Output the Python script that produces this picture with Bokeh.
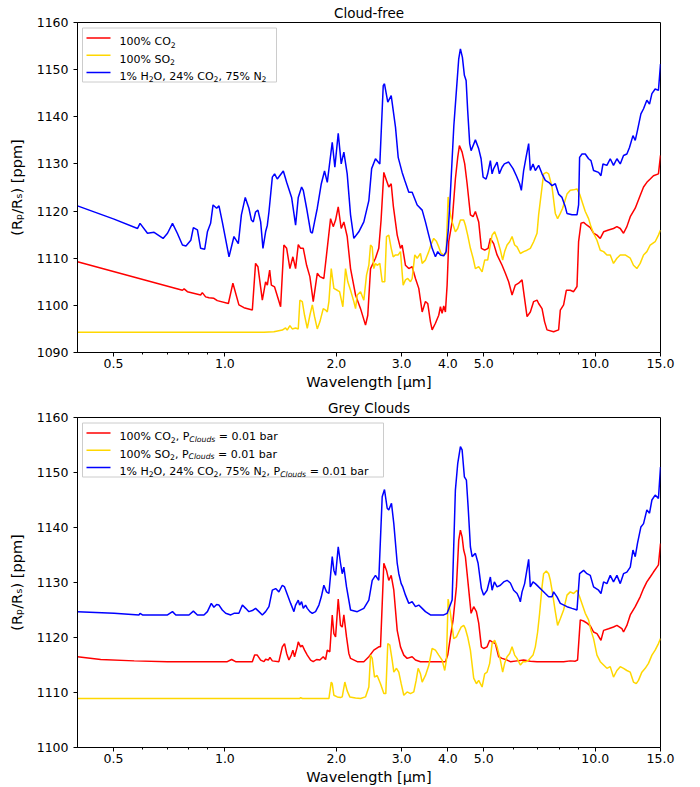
from bokeh.plotting import figure
from bokeh.models import Range1d, FixedTicker, CustomJSTickFormatter, Label, BoxAnnotation
from bokeh.layouts import column
from bokeh.embed import file_html
from bokeh.resources import INLINE

# ---------------- data (wavelength [um], (Rp/Rs)^2 [ppm]) ----------------
x_ticks = [0.5, 1.0, 2.0, 3.0, 4.0, 5.0, 10.0, 15.0]
x_minor = [0.6, 0.7, 0.8, 0.9, 6.0, 7.0, 8.0, 9.0]

cf_co2 = [(0.400,1109.25),(0.768,1103.2),(0.776,1103.5),(0.792,1102.9),(0.860,1102.2),(0.869,1102.7),(0.887,1101.8),(0.906,1101.6),(0.934,1101.5),(0.954,1101.0),(1.022,1100.4),(1.051,1104.7),(1.091,1100.1),(1.126,1099.5),(1.186,1099.0),(1.210,1108.9),(1.228,1108.2),(1.262,1101.1),(1.288,1105.0),(1.302,1104.3),(1.321,1107.5),(1.335,1104.3),(1.362,1103.9),(1.414,1099.7),(1.443,1112.8),(1.468,1112.1),(1.498,1107.8),(1.526,1110.3),(1.552,1107.8),(1.578,1112.9),(1.601,1112.1),(1.628,1112.1),(1.662,1108.5),(1.696,1106.1),(1.732,1100.8),(1.776,1106.8),(1.805,1106.1),(1.850,1105.7),(1.881,1110.7),(1.929,1118.4),(1.961,1116.7),(1.990,1118.1),(2.023,1120.9),(2.061,1116.3),(2.095,1117.7),(2.139,1114.6),(2.184,1107.8),(2.253,1102.2),(2.324,1099.3),(2.397,1095.8),(2.431,1097.9),(2.473,1107.8),(2.550,1110.0),(2.603,1112.1),(2.640,1118.0),(2.686,1128.2),(2.731,1126.5),(2.770,1125.1),(2.812,1125.8),(2.850,1121.0),(2.919,1114.9),(2.979,1112.1),(3.010,1112.8),(3.073,1108.5),(3.137,1107.8),(3.203,1108.2),(3.270,1105.7),(3.338,1103.6),(3.409,1098.6),(3.479,1100.8),(3.529,1100.4),(3.589,1096.5),(3.627,1094.8),(3.702,1096.2),(3.779,1097.9),(3.819,1099.7),(3.859,1098.3),(3.898,1099.9),(3.939,1098.6),(3.981,1104.3),(4.021,1113.5),(4.107,1117.7),(4.191,1126.8),(4.252,1131.4),(4.297,1133.9),(4.370,1132.5),(4.441,1130.0),(4.508,1125.8),(4.601,1119.2),(4.679,1118.8),(4.746,1119.9),(4.845,1117.7),(4.926,1112.1),(5.028,1111.7),(5.136,1112.1),(5.209,1114.2),(5.317,1113.1),(5.431,1110.7),(5.602,1108.5),(5.718,1106.8),(5.836,1105.0),(5.961,1102.2),(6.084,1104.3),(6.210,1104.7),(6.343,1105.4),(6.434,1101.8),(6.543,1097.6),(6.678,1098.6),(6.817,1100.8),(6.962,1101.1),(7.032,1100.4),(7.182,1099.3),(7.298,1096.5),(7.408,1094.8),(7.718,1094.4),(7.962,1094.8),(8.046,1099.0),(8.213,1100.1),(8.352,1103.2),(8.561,1103.2),(8.739,1102.9),(8.925,1104.0),(9.015,1113.5),(9.150,1117.4),(9.299,1117.6),(9.497,1117.0),(9.694,1116.5),(9.894,1115.3),(10.105,1114.9),(10.315,1114.2),(10.53,1115.6),(10.86,1116.0),(11.20,1116.3),(11.44,1116.7),(11.68,1116.3),(11.92,1115.3),(12.17,1116.7),(12.43,1118.8),(12.82,1120.6),(13.22,1123.3),(13.50,1125.1),(13.78,1126.1),(14.07,1126.8),(14.36,1127.5),(14.81,1127.9),(15.0,1131.8)]

cf_so2 = [(0.400,1094.3),(1.275,1094.3),(1.356,1094.4),(1.429,1094.75),(1.458,1095.2),(1.473,1094.75),(1.498,1095.7),(1.520,1095.0),(1.552,1095.2),(1.578,1095.0),(1.594,1101.1),(1.618,1100.8),(1.641,1097.9),(1.669,1095.1),(1.696,1097.9),(1.722,1100.1),(1.746,1097.6),(1.776,1095.0),(1.805,1096.5),(1.843,1099.3),(1.870,1099.0),(1.890,1098.6),(1.909,1100.8),(1.937,1107.8),(1.969,1103.6),(2.011,1103.2),(2.040,1102.9),(2.082,1099.7),(2.117,1107.8),(2.147,1105.0),(2.184,1103.2),(2.229,1100.8),(2.253,1099.3),(2.277,1102.2),(2.324,1102.9),(2.372,1101.1),(2.412,1106.4),(2.447,1108.5),(2.473,1112.8),(2.499,1112.4),(2.524,1107.8),(2.550,1108.9),(2.577,1108.5),(2.620,1108.9),(2.659,1105.0),(2.702,1105.0),(2.731,1114.6),(2.770,1114.9),(2.812,1112.1),(2.847,1110.3),(2.888,1110.7),(2.937,1110.7),(2.979,1111.4),(3.029,1104.3),(3.073,1105.4),(3.117,1105.7),(3.170,1105.0),(3.203,1105.7),(3.256,1110.7),(3.305,1110.0),(3.373,1111.0),(3.409,1108.9),(3.479,1109.6),(3.551,1111.4),(3.611,1113.1),(3.663,1114.2),(3.725,1113.6),(3.779,1112.4),(3.836,1111.0),(3.898,1110.7),(3.956,1111.0),(4.006,1123.0),(4.064,1119.2),(4.107,1117.7),(4.191,1115.6),(4.252,1116.3),(4.324,1118.1),(4.413,1118.1),(4.460,1117.0),(4.524,1114.9),(4.601,1112.1),(4.679,1110.0),(4.746,1107.8),(4.845,1108.2),(4.948,1107.1),(5.028,1109.6),(5.123,1109.6),(5.187,1112.1),(5.265,1114.9),(5.350,1115.6),(5.431,1114.2),(5.543,1111.7),(5.623,1109.6),(5.693,1111.4),(5.779,1112.8),(5.873,1113.5),(5.961,1114.6),(6.058,1112.8),(6.149,1112.4),(6.276,1111.0),(6.406,1111.4),(6.543,1111.7),(6.678,1112.1),(6.817,1113.5),(6.962,1115.3),(7.032,1119.2),(7.182,1125.1),(7.253,1127.9),(7.376,1128.2),(7.483,1127.9),(7.562,1126.5),(7.642,1125.1),(7.800,1119.5),(7.912,1118.4),(8.046,1119.5),(8.162,1120.6),(8.388,1123.6),(8.561,1124.4),(8.739,1124.5),(8.925,1124.7),(9.071,1123.6),(9.397,1119.9),(9.592,1118.4),(9.736,1116.7),(9.894,1115.3),(10.105,1113.8),(10.315,1111.7),(10.53,1111.4),(10.75,1110.7),(10.975,1110.7),(11.20,1108.9),(11.44,1110.0),(11.68,1110.7),(12.04,1110.7),(12.43,1110.0),(12.68,1108.5),(12.95,1107.8),(13.22,1108.9),(13.50,1110.7),(13.78,1111.4),(14.07,1112.8),(14.51,1113.5),(14.81,1114.9),(15.0,1116.0)]

cf_mix = [(0.400,1121.1),(0.502,1118.3),(0.581,1116.3),(0.590,1117.4),(0.618,1115.3),(0.644,1115.5),(0.681,1114.2),(0.700,1115.3),(0.722,1117.4),(0.744,1115.3),(0.768,1112.8),(0.785,1112.6),(0.809,1113.8),(0.822,1116.5),(0.843,1116.0),(0.860,1112.1),(0.882,1111.9),(0.897,1115.6),(0.915,1117.4),(0.929,1121.3),(0.950,1120.6),(0.964,1121.1),(0.984,1117.7),(1.026,1110.3),(1.058,1114.6),(1.087,1113.1),(1.108,1119.2),(1.135,1122.9),(1.161,1120.6),(1.179,1118.1),(1.193,1117.7),(1.210,1119.8),(1.228,1120.2),(1.249,1117.7),(1.267,1112.1),(1.288,1115.6),(1.302,1117.0),(1.315,1119.8),(1.343,1127.2),(1.362,1127.9),(1.385,1126.8),(1.438,1128.5),(1.468,1126.1),(1.514,1122.9),(1.552,1117.0),(1.578,1122.9),(1.611,1125.1),(1.628,1124.4),(1.662,1120.6),(1.704,1115.6),(1.722,1115.3),(1.746,1117.7),(1.776,1120.6),(1.821,1125.8),(1.858,1128.5),(1.890,1126.1),(1.949,1134.6),(1.981,1129.3),(2.023,1136.5),(2.061,1130.0),(2.095,1132.5),(2.139,1127.9),(2.184,1119.2),(2.229,1114.2),(2.299,1115.6),(2.372,1117.7),(2.447,1122.2),(2.490,1129.0),(2.550,1131.1),(2.620,1130.0),(2.676,1146.6),(2.697,1147.0),(2.753,1143.1),(2.812,1144.5),(2.888,1137.8),(2.937,1131.4),(3.010,1128.2),(3.060,1126.5),(3.137,1124.0),(3.203,1124.0),(3.305,1121.3),(3.409,1120.2),(3.479,1117.7),(3.551,1114.9),(3.627,1112.1),(3.702,1110.3),(3.755,1111.4),(3.819,1110.7),(3.898,1110.5),(3.956,1111.4),(4.010,1116.0),(4.064,1124.0),(4.150,1138.0),(4.218,1145.6),(4.279,1152.3),(4.324,1154.4),(4.378,1152.6),(4.432,1148.8),(4.480,1147.7),(4.524,1141.3),(4.581,1134.3),(4.621,1132.8),(4.746,1135.1),(4.845,1133.2),(4.917,1131.1),(4.979,1127.2),(5.072,1126.8),(5.123,1127.9),(5.209,1130.7),(5.265,1127.9),(5.317,1129.0),(5.431,1130.4),(5.509,1127.9),(5.602,1129.3),(5.682,1130.0),(5.836,1130.4),(5.998,1129.0),(6.122,1127.5),(6.249,1125.8),(6.315,1124.4),(6.406,1128.6),(6.502,1131.4),(6.609,1134.3),(6.678,1128.6),(6.791,1130.0),(6.889,1128.6),(7.032,1129.7),(7.182,1127.9),(7.330,1126.5),(7.483,1126.1),(7.642,1125.4),(7.800,1125.8),(7.962,1123.6),(8.131,1122.9),(8.299,1120.9),(8.388,1119.5),(8.652,1119.2),(8.925,1119.2),(9.015,1121.3),(9.071,1131.4),(9.207,1132.1),(9.397,1132.1),(9.592,1131.1),(9.736,1130.7),(9.894,1128.6),(10.207,1128.2),(10.36,1127.5),(10.49,1130.0),(10.75,1129.7),(10.975,1131.1),(11.20,1129.7),(11.44,1131.1),(11.68,1130.0),(11.92,1131.8),(12.17,1132.1),(12.37,1133.5),(12.64,1136.0),(12.82,1135.0),(13.00,1137.1),(13.28,1140.6),(13.50,1141.7),(13.78,1143.5),(14.01,1142.7),(14.22,1144.9),(14.51,1145.9),(14.81,1145.6),(15.0,1151.2)]

gc_co2 = [(0.400,1116.5),(0.462,1116.0),(0.569,1115.75),(0.700,1115.6),(1.015,1115.6),(1.043,1116.0),(1.069,1115.6),(1.186,1115.6),(1.203,1116.8),(1.223,1116.8),(1.249,1115.9),(1.275,1115.6),(1.288,1116.05),(1.310,1115.9),(1.323,1116.4),(1.343,1115.75),(1.399,1115.6),(1.429,1118.3),(1.449,1118.9),(1.468,1117.1),(1.489,1115.9),(1.511,1116.8),(1.526,1117.7),(1.542,1116.5),(1.568,1118.3),(1.578,1119.2),(1.601,1118.3),(1.618,1118.6),(1.641,1117.7),(1.669,1116.8),(1.704,1115.9),(1.732,1115.6),(1.768,1116.0),(1.805,1115.9),(1.843,1116.5),(1.870,1116.0),(1.890,1117.7),(1.920,1117.4),(1.949,1124.1),(1.969,1120.7),(1.990,1120.1),(2.023,1127.0),(2.052,1122.2),(2.074,1121.9),(2.095,1124.1),(2.130,1120.1),(2.161,1117.1),(2.184,1116.2),(2.277,1115.6),(2.372,1115.6),(2.447,1116.5),(2.524,1117.7),(2.603,1118.3),(2.631,1118.3),(2.686,1133.5),(2.731,1132.2),(2.770,1130.4),(2.812,1131.3),(2.858,1128.6),(2.919,1121.3),(2.979,1118.3),(3.041,1116.8),(3.105,1116.2),(3.203,1116.5),(3.270,1115.9),(3.373,1115.6),(3.939,1115.6),(3.996,1116.8),(4.064,1120.1),(4.132,1123.2),(4.218,1129.2),(4.279,1137.7),(4.324,1139.5),(4.370,1138.3),(4.413,1135.9),(4.460,1134.7),(4.508,1131.6),(4.621,1124.4),(4.696,1125.6),(4.776,1124.7),(4.845,1122.6),(4.926,1118.3),(4.997,1118.0),(5.104,1118.3),(5.187,1119.5),(5.265,1119.2),(5.373,1118.9),(5.485,1116.5),(5.602,1116.2),(5.779,1115.9),(5.898,1115.6),(6.149,1115.75),(6.406,1115.9),(6.678,1115.7),(6.962,1115.6),(7.562,1115.6),(8.213,1115.6),(8.561,1115.75),(8.831,1115.7),(8.958,1115.9),(9.110,1123.2),(9.299,1123.0),(9.497,1122.6),(9.694,1122.1),(9.894,1121.0),(10.105,1120.7),(10.36,1119.5),(10.53,1121.3),(10.86,1121.6),(11.20,1121.9),(11.44,1122.2),(11.80,1121.6),(11.92,1121.0),(12.17,1122.2),(12.43,1124.1),(12.82,1125.6),(13.22,1127.4),(13.50,1128.9),(13.78,1130.1),(14.07,1131.0),(14.36,1131.9),(14.67,1132.8),(14.81,1133.2),(15.0,1137.1)]

gc_so2 = [(0.400,1108.9),(1.590,1108.9),(1.601,1109.05),(1.620,1108.9),(1.909,1108.9),(1.937,1111.9),(1.949,1111.6),(1.969,1109.5),(2.011,1109.2),(2.052,1109.1),(2.074,1109.2),(2.108,1111.9),(2.139,1110.3),(2.174,1109.2),(2.253,1109.0),(2.324,1108.9),(2.397,1109.2),(2.447,1111.0),(2.473,1116.8),(2.499,1116.2),(2.535,1112.8),(2.577,1113.1),(2.631,1111.6),(2.686,1109.8),(2.719,1109.8),(2.753,1118.9),(2.788,1118.6),(2.829,1115.9),(2.858,1113.7),(2.906,1114.4),(2.948,1113.7),(2.992,1111.6),(3.041,1109.5),(3.105,1110.1),(3.170,1109.8),(3.236,1110.1),(3.284,1112.2),(3.325,1114.4),(3.373,1113.4),(3.409,1111.9),(3.479,1113.1),(3.551,1114.9),(3.627,1118.0),(3.702,1117.7),(3.779,1116.8),(3.859,1115.9),(3.922,1114.0),(3.964,1115.9),(4.006,1127.0),(4.064,1124.4),(4.148,1119.8),(4.218,1120.1),(4.279,1121.0),(4.343,1121.9),(4.413,1122.2),(4.460,1121.6),(4.524,1120.1),(4.601,1117.7),(4.696,1112.6),(4.776,1111.6),(4.845,1112.2),(4.948,1111.0),(5.028,1113.4),(5.104,1113.7),(5.187,1115.3),(5.265,1118.9),(5.350,1119.5),(5.431,1118.3),(5.543,1115.9),(5.623,1113.7),(5.693,1115.3),(5.779,1116.5),(5.873,1117.1),(5.961,1118.3),(6.058,1116.8),(6.149,1116.2),(6.276,1115.0),(6.382,1115.6),(6.502,1115.6),(6.609,1115.9),(6.791,1116.8),(6.889,1118.3),(6.988,1121.0),(7.075,1124.4),(7.182,1129.2),(7.253,1131.6),(7.376,1132.1),(7.483,1131.6),(7.562,1130.4),(7.642,1128.6),(7.800,1124.7),(7.912,1122.2),(8.046,1123.4),(8.213,1125.0),(8.388,1127.7),(8.561,1128.3),(8.739,1128.0),(8.925,1128.6),(9.071,1127.4),(9.397,1124.4),(9.592,1123.2),(9.736,1121.3),(9.894,1119.8),(10.105,1116.8),(10.315,1115.6),(10.53,1115.0),(10.75,1114.4),(10.975,1114.7),(11.20,1112.8),(11.44,1114.0),(11.68,1114.7),(11.92,1114.4),(12.17,1114.0),(12.43,1113.7),(12.68,1111.9),(12.90,1111.6),(13.08,1112.2),(13.36,1113.7),(13.64,1114.4),(13.92,1115.3),(14.22,1116.8),(14.51,1117.7),(14.81,1118.9),(15.0,1119.8)]

gc_mix = [(0.400,1124.7),(0.502,1124.4),(0.5865,1124.1),(0.590,1124.4),(0.599,1124.1),(0.700,1124.1),(0.722,1124.7),(0.737,1124.1),(0.800,1124.1),(0.822,1124.8),(0.843,1124.1),(0.878,1124.1),(0.897,1124.7),(0.919,1126.2),(0.934,1125.5),(0.950,1126.0),(0.964,1125.9),(0.984,1125.0),(1.005,1124.4),(1.037,1124.1),(1.058,1124.4),(1.091,1124.4),(1.115,1125.9),(1.138,1125.3),(1.161,1124.7),(1.186,1124.9),(1.210,1125.3),(1.236,1124.7),(1.262,1124.1),(1.288,1124.7),(1.315,1125.6),(1.343,1128.6),(1.371,1128.9),(1.399,1128.3),(1.429,1129.5),(1.449,1129.2),(1.505,1126.2),(1.536,1124.7),(1.552,1125.9),(1.578,1126.8),(1.591,1125.9),(1.611,1126.5),(1.628,1125.3),(1.651,1125.9),(1.669,1125.3),(1.696,1124.7),(1.722,1124.4),(1.757,1124.7),(1.794,1125.9),(1.821,1127.4),(1.850,1129.5),(1.881,1128.3),(1.909,1128.0),(1.949,1134.7),(1.969,1132.2),(1.990,1131.3),(2.023,1136.5),(2.052,1133.5),(2.074,1131.6),(2.095,1132.8),(2.130,1129.2),(2.184,1125.0),(2.277,1124.7),(2.372,1125.3),(2.447,1126.8),(2.499,1130.4),(2.550,1131.3),(2.603,1130.4),(2.659,1145.6),(2.697,1146.9),(2.743,1143.5),(2.770,1143.2),(2.817,1144.4),(2.858,1140.7),(2.919,1133.5),(2.948,1131.6),(2.992,1129.8),(3.022,1129.2),(3.073,1127.7),(3.137,1126.2),(3.203,1126.5),(3.270,1125.6),(3.338,1125.9),(3.409,1125.3),(3.479,1124.7),(3.589,1124.1),(3.741,1124.1),(3.898,1124.1),(3.981,1124.4),(4.107,1126.8),(4.191,1146.8),(4.252,1151.6),(4.324,1154.7),(4.370,1154.1),(4.432,1149.2),(4.488,1148.6),(4.536,1143.8),(4.601,1136.5),(4.650,1134.7),(4.746,1135.3),(4.826,1133.5),(4.926,1128.9),(4.997,1127.7),(5.104,1128.6),(5.209,1131.0),(5.265,1128.6),(5.340,1130.1),(5.431,1129.2),(5.543,1129.5),(5.658,1130.1),(5.779,1130.4),(5.898,1129.9),(6.020,1128.6),(6.149,1128.0),(6.237,1127.1),(6.276,1126.5),(6.343,1128.3),(6.446,1129.8),(6.609,1134.2),(6.678,1129.2),(6.791,1130.1),(6.889,1129.8),(7.032,1129.2),(7.182,1128.6),(7.330,1128.0),(7.483,1127.4),(7.642,1127.4),(7.718,1128.3),(7.883,1127.4),(8.046,1126.2),(8.388,1125.6),(8.652,1125.3),(8.925,1125.0),(9.071,1131.6),(9.299,1132.2),(9.497,1131.6),(9.694,1131.3),(9.894,1129.2),(10.207,1128.6),(10.36,1128.0),(10.53,1130.1),(10.75,1129.8),(10.975,1131.3),(11.20,1130.1),(11.44,1131.3),(11.68,1129.8),(11.92,1131.6),(12.17,1131.9),(12.43,1132.8),(12.64,1135.9),(12.82,1134.7),(13.00,1137.1),(13.28,1140.1),(13.50,1140.7),(13.78,1143.2),(14.01,1142.6),(14.22,1145.0),(14.51,1145.9),(14.81,1145.3),(15.0,1151.0)]

# ---------------- styling ----------------
FONT = "DejaVu Sans"
RED, GOLD, BLUE = "#ff0000", "#ffd700", "#0000ff"

# DejaVu Sans advance widths (em)
CW = {' ':0.318,'%':0.950,'0':0.636,'1':0.636,'2':0.636,'4':0.636,'5':0.636,'7':0.636,
      'C':0.698,'O':0.787,'S':0.635,'H':0.752,'N':0.748,',':0.318,'P':0.603,'=':0.838,
      '.':0.318,'b':0.635,'a':0.613,'r':0.411,'l':0.278,'o':0.612,'u':0.634,'d':0.635,'s':0.521}


def tw(s, size):
    return sum(CW.get(c, 0.6) for c in s) * size


def rich_text(p, x0, yc, parts, size=11.0):
    x = x0
    base = yc - 0.36 * size
    for txt, kind in parts:
        fs = size if kind == "n" else 0.7 * size
        stripped = txt.lstrip(" ")
        lead = tw(txt[:len(txt) - len(stripped)], fs)
        y = base if kind == "n" else base - 0.24 * size
        p.add_layout(Label(x=x + lead, y=y, x_units="screen", y_units="screen",
                           text=stripped.rstrip(" "), text_font=FONT,
                           text_font_size=f"{fs:.1f}px",
                           text_font_style="italic" if kind == "i" else "normal",
                           text_color="black", text_baseline="alphabetic", text_align="left"))
        x += tw(txt, fs)


def make_fig(title, ymin, ymax, height, top_border):
    p = figure(width=700, height=height, x_axis_type="log",
               x_range=Range1d(0.4, 15.0), y_range=Range1d(ymin, ymax),
               output_backend="svg", toolbar_location=None,
               min_border_left=77, min_border_right=40,
               min_border_top=top_border, min_border_bottom=40)
    p.title.text = title
    p.title.align = "center"
    p.title.text_font = FONT
    p.title.text_font_size = "13.5px"
    p.title.text_font_style = "normal"
    p.title.text_color = "black"
    p.title.standoff = 4
    p.outline_line_color = "black"
    p.outline_line_width = 1
    p.outline_line_alpha = 1
    p.xgrid.visible = False
    p.ygrid.visible = False
    p.background_fill_color = "white"
    p.border_fill_color = "white"

    xa = p.xaxis[0]
    xa.ticker = FixedTicker(ticks=x_ticks, minor_ticks=x_minor)
    xa.formatter = CustomJSTickFormatter(code="return tick.toFixed(1);")
    xa.axis_label = "Wavelength [\u03bcm]"
    xa.major_label_standoff = 2
    xa.axis_label_standoff = 3

    ya = p.yaxis[0]
    ya.ticker = FixedTicker(ticks=list(range(ymin, ymax + 1, 10)))
    ya.axis_label = "(R\u209a/R\u209b) [ppm]"
    ya.major_label_standoff = 5
    ya.axis_label_standoff = 9
    ya.minor_tick_line_color = None

    for ax in (xa, ya):
        ax.axis_line_color = "black"
        ax.major_tick_line_color = "black"
        ax.minor_tick_line_color = "black" if ax is xa else None
        ax.major_tick_out = 4
        ax.major_tick_in = 0
        ax.minor_tick_out = 2
        ax.minor_tick_in = 0
        ax.major_label_text_font = FONT
        ax.major_label_text_font_size = "12.5px"
        ax.major_label_text_color = "black"
        ax.axis_label_text_font = FONT
        ax.axis_label_text_font_size = "14.5px"
        ax.axis_label_text_font_style = "normal"
        ax.axis_label_text_color = "black"
    return p


def draw(p, series):
    for data, color in series:
        xs = [d[0] for d in data]
        ys = [d[1] for d in data]
        p.line(xs, ys, line_color=color, line_width=1.5)


def legend(p, box_right, rows, frame_h=330):
    top, bottom = frame_h - 5.5, frame_h - 59.5
    p.add_layout(BoxAnnotation(left=5, right=box_right, top=top, bottom=bottom,
                               left_units="screen", right_units="screen",
                               top_units="screen", bottom_units="screen",
                               fill_color="white", fill_alpha=0.8,
                               line_color="#cccccc", line_alpha=1, line_width=1))
    for i, (color, parts) in enumerate(rows):
        yc = frame_h - 15.5 - 17.3 * i
        p.add_layout(BoxAnnotation(left=9, right=33, top=yc + 0.75, bottom=yc - 0.75,
                                   left_units="screen", right_units="screen",
                                   top_units="screen", bottom_units="screen",
                                   fill_color=color, fill_alpha=1, line_color=None))
        rich_text(p, 42, yc, parts)


p1 = make_fig("Cloud-free", 1090, 1160, 392, 22)
draw(p1, [(cf_co2, RED), (cf_so2, GOLD), (cf_mix, BLUE)])
legend(p1, 199, [
    (RED, [("100% CO", "n"), ("2", "s")]),
    (GOLD, [("100% SO", "n"), ("2", "s")]),
    (BLUE, [("1% H", "n"), ("2", "s"), ("O, 24% CO", "n"), ("2", "s"), (", 75% N", "n"), ("2", "s")]),
])

p2 = make_fig("Grey Clouds", 1100, 1160, 395, 25)
draw(p2, [(gc_co2, RED), (gc_so2, GOLD), (gc_mix, BLUE)])
legend(p2, 306, [
    (RED, [("100% CO", "n"), ("2", "s"), (", P", "n"), ("Clouds", "i"), (" = 0.01 bar", "n")]),
    (GOLD, [("100% SO", "n"), ("2", "s"), (", P", "n"), ("Clouds", "i"), (" = 0.01 bar", "n")]),
    (BLUE, [("1% H", "n"), ("2", "s"), ("O, 24% CO", "n"), ("2", "s"), (", 75% N", "n"), ("2", "s"),
            (", P", "n"), ("Clouds", "i"), (" = 0.01 bar", "n")]),
])

layout = column(p1, p2, spacing=0)
open("out.html", "w").write(file_html(layout, INLINE))
